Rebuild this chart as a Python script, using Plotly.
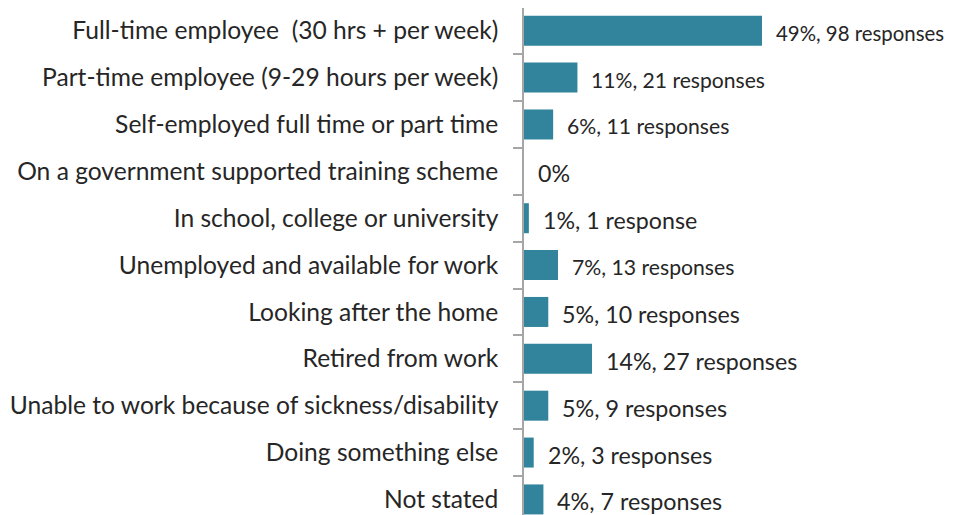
import plotly.graph_objects as go

categories = [
    "Full-time employee  (30 hrs + per week)",
    "Part-time employee (9-29 hours per week)",
    "Self-employed full time or part time",
    "On a government supported training scheme",
    "In school, college or university",
    "Unemployed and available for work",
    "Looking after the home",
    "Retired from work",
    "Unable to work because of sickness/disability",
    "Doing something else",
    "Not stated",
]
percents = [49, 11, 6, 0, 1, 7, 5, 14, 5, 2, 4]
responses = [98, 21, 11, 0, 1, 13, 10, 27, 9, 3, 7]

# styling (label font sizes vary slightly in the original)
label_sizes = [20.4, 21.1, 21.2, 23.2, 23.2, 21.2, 23.2, 23.2, 23.3, 23.2, 23.3]

def make_label(p, n):
    if n == 0:
        return f"{p}%"
    return f"{p}%, {n} response" + ("" if n == 1 else "s")

labels = [make_label(p, n) for p, n in zip(percents, responses)]

BAR = "#31849B"
TXT = "#262626"
FONT = "Lato"

fig = go.Figure()
fig.add_trace(go.Bar(
    y=categories, x=percents, orientation="h",
    marker=dict(color=BAR, line=dict(width=0)),
    width=0.64, hoverinfo="skip",
))

for c, p, lab, s in zip(categories, percents, labels, label_sizes):
    fig.add_annotation(x=p, y=c, text=lab, showarrow=False, xanchor="left",
                       yanchor="middle", xshift=12, yshift=-2,
                       font=dict(family=FONT, size=s, color=TXT))

fig.update_layout(
    width=955, height=515,
    margin=dict(l=516, r=0, t=0, b=0, autoexpand=False),
    plot_bgcolor="white", paper_bgcolor="white",
    showlegend=False,
    font=dict(family=FONT, color=TXT),
)
fig.update_xaxes(range=[0, 439 / 4.857], visible=False, fixedrange=True)
fig.update_yaxes(
    type="category", range=[10.503, -0.485],
    showline=True, linecolor="#A6A6A6", linewidth=1.5,
    ticks="outside", tickson="boundaries", ticklen=9, tickcolor="#A6A6A6", tickwidth=1.5,
    tickfont=dict(family=FONT, size=24.6, color=TXT),
    ticklabelstandoff=19,
    showgrid=False, zeroline=False, fixedrange=True,
)

fig.write_html("out.html")
